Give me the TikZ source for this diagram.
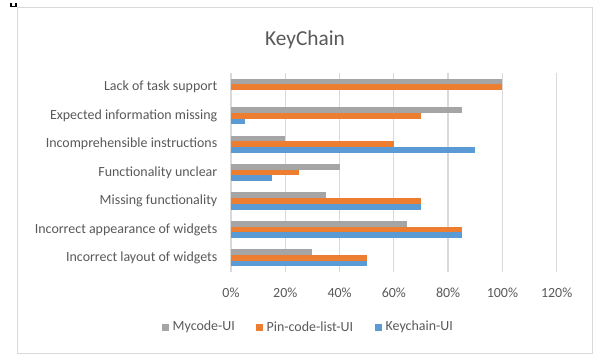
\documentclass[tikz,border=0pt]{standalone}
\usepackage{fontspec}
\setmainfont{Carlito}
\definecolor{txtgray}{HTML}{595959}
\definecolor{gridgray}{HTML}{D9D9D9}
\definecolor{sermycode}{HTML}{A5A5A5}
\definecolor{serpin}{HTML}{ED7D31}
\definecolor{serkey}{HTML}{5B9BD5}
\tikzset{
  frame/.style={draw=gridgray, line width=0.9bp},
  gridline/.style={draw=gridgray, line width=1.3bp},
  catlabel/.style={anchor=east, inner sep=0pt, text=txtgray, font=\fontsize{14}{16}\selectfont},
  ticklabel/.style={anchor=center, inner sep=0pt, text=txtgray, font=\fontsize{14}{16}\selectfont},
  legtext/.style={anchor=west, inner sep=0pt, text=txtgray, font=\fontsize{14}{16}\selectfont},
  titlelabel/.style={anchor=center, inner sep=0pt, text=txtgray, font=\fontsize{21.4}{25}\selectfont},
}
\begin{document}
\begin{tikzpicture}[x=1bp, y=-1bp]
\useasboundingbox (0,0) rectangle (593,355);
\fill[white] (0,0) rectangle (593,355);
% small handle mark at the corner
\fill[black] (10,2.5) rectangle (16.5,7);
\fill[white] (11.5,2.5) rectangle (15,5.5);
% chart frame
\draw[frame] (17,7) rectangle (592,353);
% title
\node[titlelabel] (title) at (305,40) {KeyChain};
% vertical gridlines and percentage labels
\foreach \k/\lab in {0/0\%,1/20\%,2/40\%,3/60\%,4/80\%,5/100\%,6/120\%}{
  \draw[gridline] ({231+54.28*\k},73) -- ({231+54.28*\k},272);
  \node[ticklabel] (tick\k) at ({231+54.28*\k},293) {\lab};
}
% bars: category index / Mycode-UI / Pin-code-list-UI / Keychain-UI / label
\foreach \i/\m/\p/\q/\lab in {
  0/100/100/0/Lack of task support,
  1/85/70/5/Expected information missing,
  2/20/60/90/Incomprehensible instructions,
  3/40/25/15/Functionality unclear,
  4/35/70/70/Missing functionality,
  5/65/85/85/Incorrect appearance of widgets,
  6/30/50/50/Incorrect layout of widgets}{
  \pgfmathsetmacro{\top}{73+28.43*\i}
  \fill[sermycode] (231,{\top+5.7}) rectangle ({231+2.714*\m},{\top+11.4});
  \fill[serpin] (231,{\top+11.4}) rectangle ({231+2.714*\p},{\top+17.1});
  \ifnum\q>0
    \fill[serkey] (231,{\top+17.1}) rectangle ({231+2.714*\q},{\top+22.8});
  \fi
  \node[catlabel] (cat\i) at (217.5,{\top+14.2}) {\lab};
}
% legend
\fill[sermycode] (162,323.5) rectangle (169,330.5);
\node[legtext] (legmycode) at (172.5,327) {Mycode-UI};
\fill[serpin] (256,323.5) rectangle (263,330.5);
\node[legtext] (legpin) at (266.5,327) {Pin-code-list-UI};
\fill[serkey] (375,323.5) rectangle (382,330.5);
\node[legtext] (legkey) at (385.5,327) {Keychain-UI};
\end{tikzpicture}
\end{document}
